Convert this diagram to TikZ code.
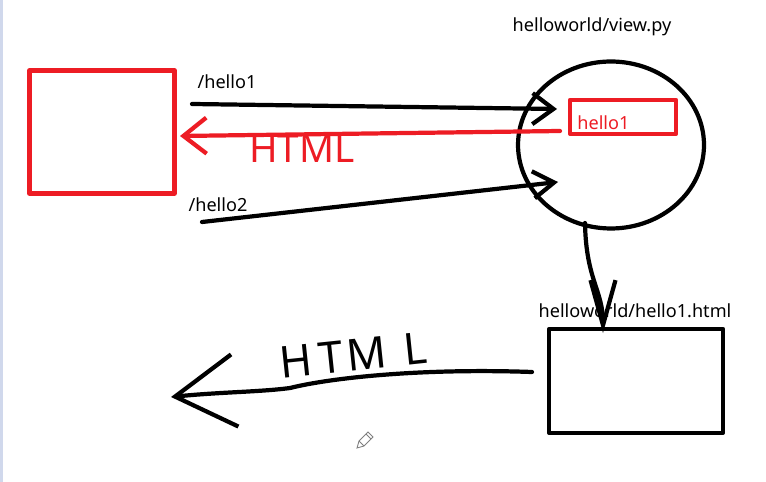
\documentclass[tikz,border=0pt]{standalone}
\usepackage{fontspec}
\setmainfont{Noto Sans}
\usetikzlibrary{arrows.meta,shapes.geometric}
\definecolor{paintred}{RGB}{237,28,36}
\definecolor{winedge}{RGB}{208,216,236}

\begin{document}
\begin{tikzpicture}[x=0.02cm,y=-0.02cm,
  pen/.style={draw=black,line width=2.4pt,line cap=round,line join=round},
  redpen/.style={pen,draw=paintred},
  lbl/.style={font=\fontsize{10.3}{11}\selectfont,inner sep=0pt},
  hand/.style={font=\fontsize{22}{24}\selectfont,inner sep=0pt},
  barb/.style 2 args={-{Straight Barb[length=#1,width=#2]}},
]
  % page
  \useasboundingbox (0,0) rectangle (766,482);
  \fill[white] (0,0) rectangle (766,482);
  \fill[winedge] (0,0) rectangle (3,482);

  % browser
  \node[redpen,minimum width=2.9cm,minimum height=2.46cm] (browser) at (102,132) {};

  % view.py
  \node[pen,ellipse,minimum width=3.72cm,minimum height=3.34cm] (view) at (611,145) {};
  \node[lbl] (viewlbl) at (592,27) {helloworld/view.py};
  \node[redpen,minimum width=2.12cm,minimum height=0.68cm] (fn) at (623,117) {};
  \node[lbl,text=paintred,anchor=base west] (fntxt) at (577,130) {hello1};

  % template
  \node[pen,minimum width=3.48cm,minimum height=2.08cm] (tmpl) at (636,381) {};
  \node[lbl] (tmpllbl) at (635,311) {helloworld/hello1.html};

  % ends of the strokes
  \coordinate (r1a) at (192,104);
  \coordinate (r1b) at (557,109);
  \coordinate (r2a) at (202,222);
  \coordinate (r2b) at (558,182);
  \coordinate (res1a) at (560,131);
  \coordinate (res1b) at (180,136);
  \coordinate (down1) at (585,223);
  \coordinate (down2) at (603,333);
  \coordinate (res2a) at (532,372);
  \coordinate (res2b) at (171,397);

  % requests
  \draw[pen,barb={0.42cm}{0.62cm}] (r1a) -- (r1b);
  \node[lbl] (p1) at (227,82) {/hello1};
  \draw[pen,barb={0.42cm}{0.54cm}] (r2a) -- (r2b);
  \node[lbl] (p2) at (218,205) {/hello2};

  % html back
  \draw[redpen,barb={0.46cm}{0.72cm}] (res1a) -- (res1b);
  \node[hand,text=paintred] (h1) at (302,149) {HTML};

  % view -> template
  \draw[pen,barb={0.9cm}{0.5cm}] (down1) .. controls (586,280) and (603,290) .. (down2);

  % template -> out
  \draw[pen,barb={1.2cm}{1.45cm}] (res2a) .. controls (420,368) and (330,378) .. (290,388)
        .. controls (260,392) and (220,392) .. (res2b);
  \node[hand,font=\fontsize{25}{27}\selectfont,rotate=6] (h2) at (353,355) {H\kern4pt T\kern2pt M\kern10pt L};

  % pencil cursor
  \draw[gray,line width=0.5pt,fill=white] (357,448) -- (359,441) -- (368,432) -- (373,437)
        -- (364,446) -- cycle;
  \draw[gray,line width=0.5pt] (359,441) -- (364,446) (366,434) -- (371,439);
\end{tikzpicture}
\end{document}
